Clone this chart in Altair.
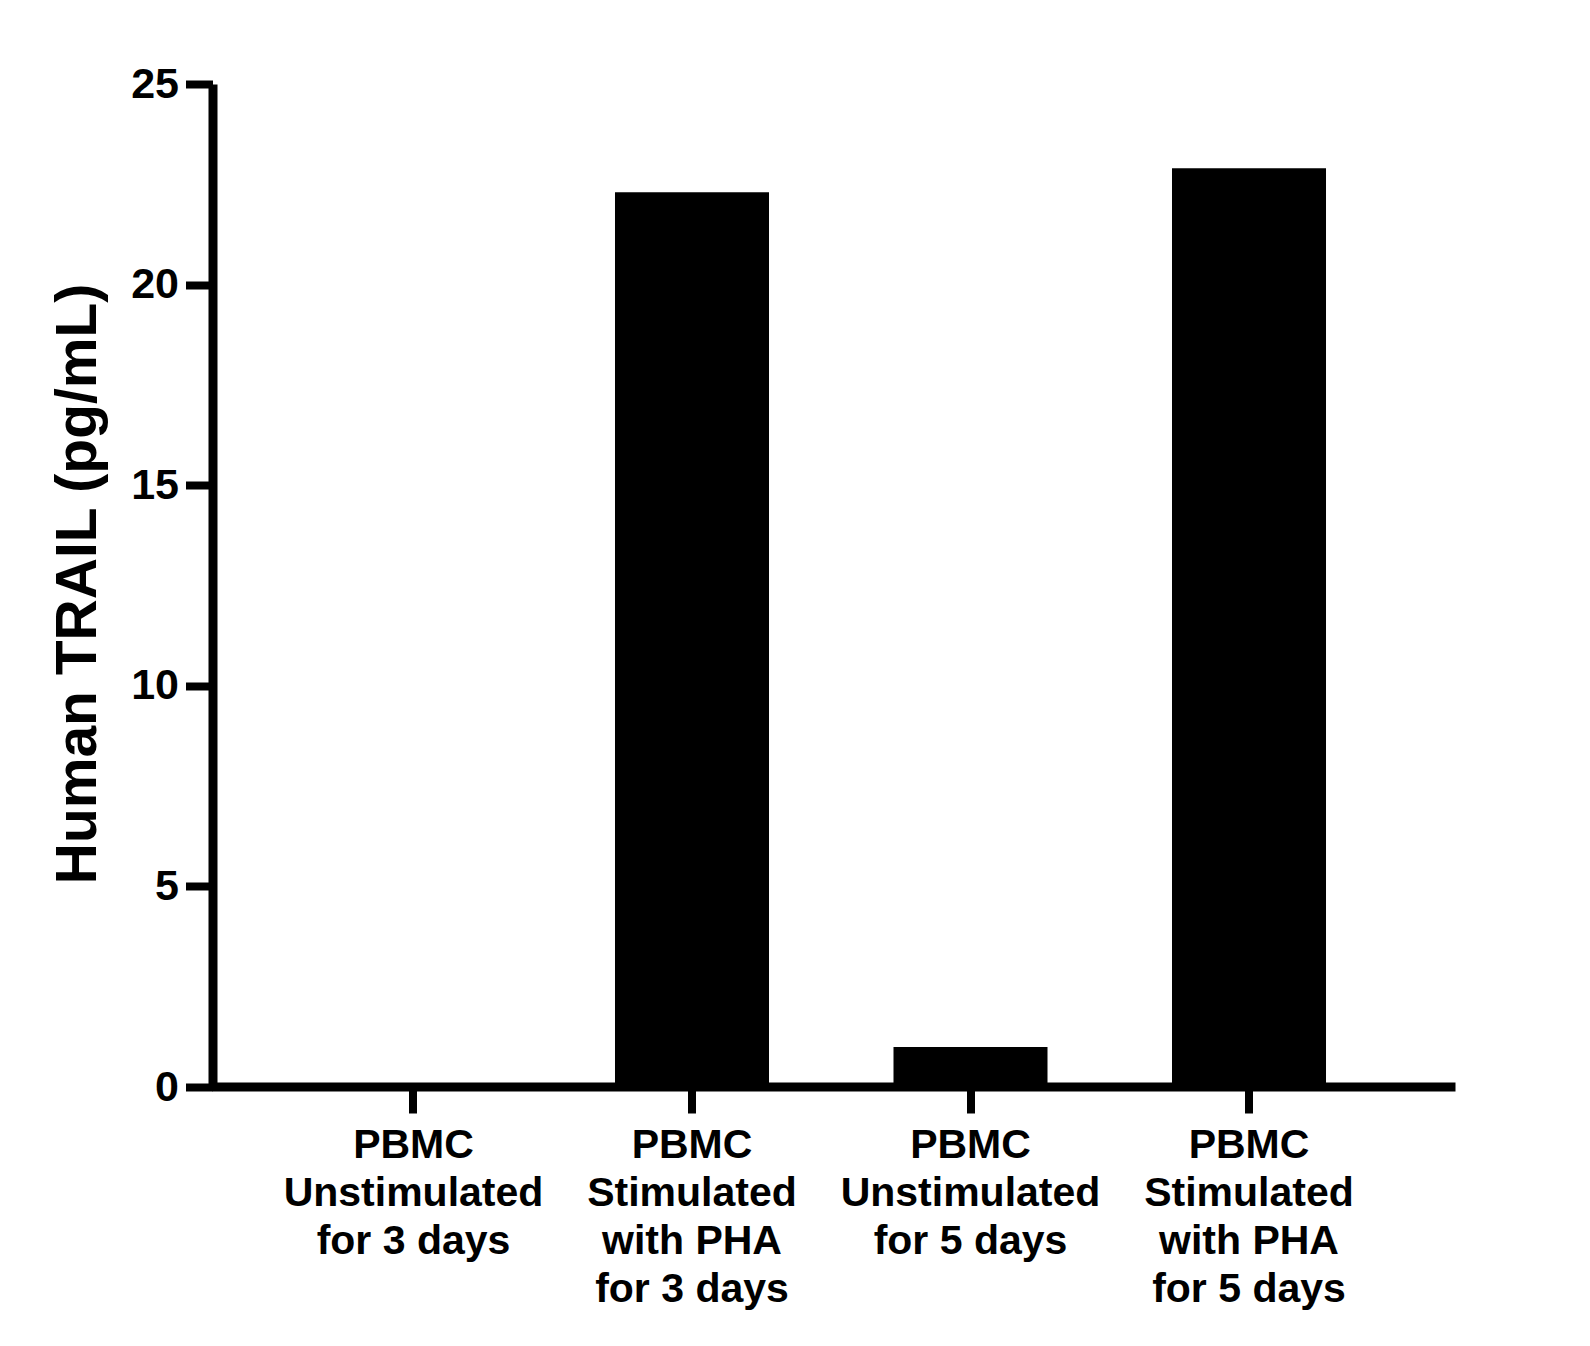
import altair as alt
import pandas as pd

categories = [
    "PBMC\nUnstimulated\nfor 3 days",
    "PBMC\nStimulated\nwith PHA\nfor 3 days",
    "PBMC\nUnstimulated\nfor 5 days",
    "PBMC\nStimulated\nwith PHA\nfor 5 days",
]
values = [0.0, 22.3, 1.0, 22.9]
y_ticks = [0, 5, 10, 15, 20, 25]

df = pd.DataFrame({"cat": categories, "val": values})

FONT = "Liberation Sans"

chart = alt.Chart(df).mark_bar(color="black").encode(
    x=alt.X(
        "cat:N",
        sort=categories,
        scale=alt.Scale(paddingInner=0.447, paddingOuter=0.4452, range=[0, 1237.5]),
        axis=alt.Axis(
            title=None,
            labelAngle=0,
            labelExpr="split(datum.label, '\\n')",
            labelFont=FONT,
            labelFontSize=41,
            labelFontWeight="bold",
            labelColor="black",
            labelLineHeight=48,
            labelBaseline="top",
            labelPadding=12,
            tickSize=26,
            tickWidth=8,
            tickColor="black",
            domain=False,
            labelLimit=0,
        ),
    ),
    y=alt.Y(
        "val:Q",
        scale=alt.Scale(domain=[0, 25], nice=False, zero=True),
        axis=alt.Axis(
            title="Human TRAIL (pg/mL)",
            values=y_ticks,
            grid=False,
            labelFont=FONT,
            labelFontSize=43,
            labelFontWeight="bold",
            labelColor="black",
            labelPadding=7,
            tickSize=27,
            tickWidth=8,
            tickColor="black",
            domainColor="black",
            domainWidth=9,
            titleFont=FONT,
            titleFontSize=57,
            titleFontWeight="bold",
            titleColor="black",
            titleAngle=-90,
            titleBaseline="alphabetic",
            titleAlign="center",
            titleX=-117.5,
            titleY=499.5,
        ),
    ),
)

# x-axis baseline line spanning the full plot width
baseline_df = pd.DataFrame({"y0": [0]})
baseline = alt.Chart(baseline_df).mark_rule(color="black", strokeWidth=9).encode(
    y="y0:Q",
    x=alt.value(0),
    x2=alt.value(1243),
)

final = alt.layer(chart, baseline).properties(
    width=1243,
    height=1003,
    autosize=alt.AutoSizeParams(type="none"),
    padding={"left": 212.5, "top": 84, "right": 134.5, "bottom": 259},
    background="white",
).configure_view(stroke=None)

final.save("out.html", embed_options={"renderer": "svg", "actions": False})
